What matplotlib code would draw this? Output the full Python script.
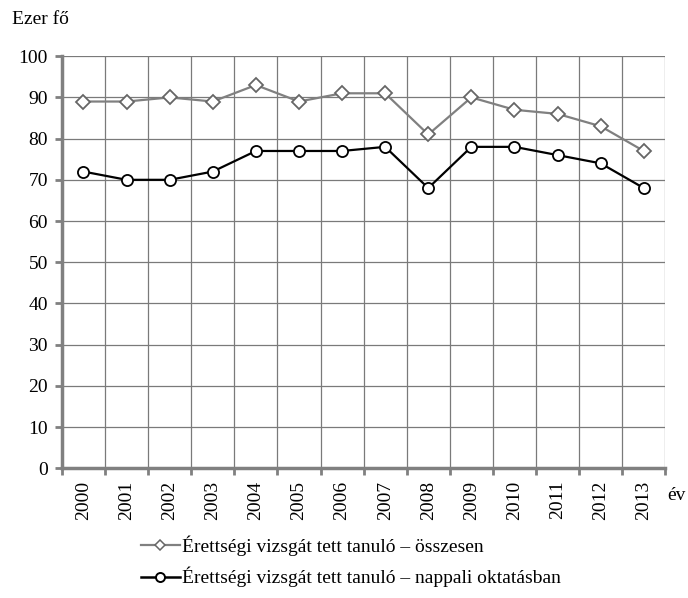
import matplotlib.pyplot as plt
import numpy as np
from matplotlib.lines import Line2D

plt.rcParams['font.family'] = ['Liberation Serif', 'DejaVu Serif']

# Data
years = ['2000', '2001', '2002', '2003', '2004', '2005', '2006',
         '2007', '2008', '2009', '2010', '2011', '2012', '2013']
total = [89, 89, 90, 89, 93, 89, 91, 91, 81, 90, 87, 86, 83, 77]
daytime = [72, 70, 70, 72, 77, 77, 77, 78, 68, 78, 78, 76, 74, 68]
label_total = 'Érettségi vizsgát tett tanuló – összesen'
label_day = 'Érettségi vizsgát tett tanuló – nappali oktatásban'

grid_c = '#7a7a7a'
spine_c = '#808080'
fs = 14

fig = plt.figure(figsize=(6.88, 5.98), dpi=100)
ax = fig.add_axes([0.090, 0.217, 0.877, 0.689])

x = np.arange(len(years))
ax.plot(x, total, color='#808080', lw=1.6, marker='D', ms=7,
        mfc='white', mec='#666666', mew=1.3, zorder=3)
ax.plot(x, daytime, color='black', lw=1.6, marker='o', ms=8,
        mfc='white', mec='black', mew=1.3, zorder=3)

ax.set_xlim(-0.5, len(years) - 0.5)
ax.set_ylim(0, 100)
ax.set_yticks(np.arange(0, 101, 10))
ax.set_xticks(x)
ax.set_xticklabels(years, rotation=90, fontsize=fs)
ax.set_xticks(np.arange(-0.5, len(years), 1.0), minor=True)

ax.grid(axis='y', which='major', color=grid_c, lw=0.9)
ax.grid(axis='x', which='minor', color=grid_c, lw=0.9)
ax.set_axisbelow(True)

ax.tick_params(axis='y', labelsize=fs, length=5, width=2, color=spine_c, pad=5)
ax.tick_params(axis='x', which='major', length=0, pad=9)
ax.tick_params(axis='x', which='minor', length=5, width=2, color=spine_c)

for s in ['top', 'right']:
    ax.spines[s].set_visible(False)
for s in ['left', 'bottom']:
    ax.spines[s].set_color(spine_c)
    ax.spines[s].set_linewidth(2.5)

fig.text(0.017, 0.967, 'Ezer fő', fontsize=fs, ha='left', va='center')
fig.text(0.970, 0.172, 'év', fontsize=fs, ha='left', va='center')

handles = [
    Line2D([], [], color='#808080', lw=1.6, marker='D', ms=5.5,
           mfc='white', mec='#666666', mew=1.1),
    Line2D([], [], color='black', lw=1.8, marker='o', ms=6.5,
           mfc='white', mec='black', mew=1.4),
]
fig.legend(handles, [label_total, label_day], loc='center',
           bbox_to_anchor=(0.51, 0.061), frameon=False, fontsize=fs,
           handlelength=2.0, handletextpad=0.1, labelspacing=0.55)

fig.savefig('out.png', dpi=100)
